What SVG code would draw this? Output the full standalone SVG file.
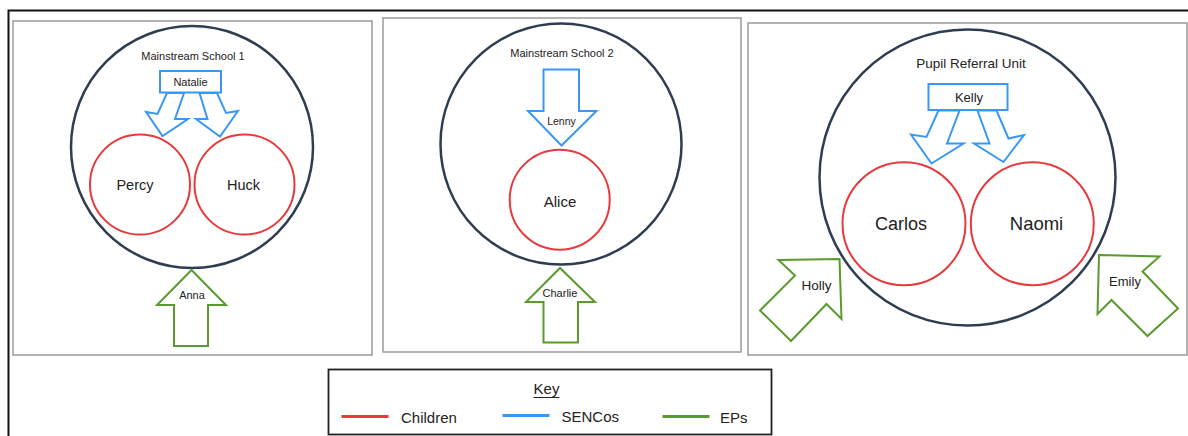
<svg xmlns="http://www.w3.org/2000/svg" width="1188" height="436" viewBox="0 0 1188 436">
<style>
text{font-family:"Liberation Sans",Arial,sans-serif;fill:#222;text-anchor:middle;dominant-baseline:central}
.panel{fill:#fff;stroke:#9a9a9a;stroke-width:1.5}
.school{fill:none;stroke:#2f3d52;stroke-width:2.5}
.child{fill:none;stroke:#e8393d;stroke-width:2}
.senco{fill:#fff;stroke:#3a98f2;stroke-width:2;stroke-linejoin:miter}
.ep{fill:#fff;stroke:#5a9a2e;stroke-width:2;stroke-linejoin:miter}
.key{fill:#fff;stroke:#222;stroke-width:1.8}
.kt{font-family:"Liberation Sans",Arial,sans-serif;font-size:15px;text-anchor:start}
</style>
<rect width="1188" height="436" fill="#fff"/>
<path d="M8.5 436V10.5H1188" fill="none" stroke="#111" stroke-width="2"/>

<g id="panel-school1">
<rect class="panel" x="13" y="21" width="359" height="334"/>
<circle class="school" cx="192" cy="147" r="121"/>
<text x="193" y="56" font-size="11">Mainstream School 1</text>
</g>
<g id="panel-school2">
<rect class="panel" x="383" y="18" width="358" height="334"/>
<circle class="school" cx="561" cy="144" r="120.5"/>
<text x="562" y="53" font-size="11">Mainstream School 2</text>
</g>
<g id="panel-pru">
<rect class="panel" x="748" y="23" width="439" height="332"/>
<circle class="school" cx="967.5" cy="177.5" r="148"/>
<text x="971" y="63" font-size="13.5">Pupil Referral Unit</text>
</g>

<g id="connectors">
<polygon class="senco" points="167,93 184,93 175,119 188,119 162.5,136 146,112 157.5,114"/>
<polygon class="senco" points="199.5,93 217,93 226,113 238,111 220,136.5 196,119 207.5,119"/>
<polygon class="senco" points="543.5,69.5 579,69.5 579,111 596.5,111 561.5,145.5 528,111 543.5,111"/>
<polygon class="senco" points="938.5,110.5 959.5,110.5 947,143.5 963.5,143.5 931.5,163.5 911,134.5 926.5,137"/>
<polygon class="senco" points="977.5,110.5 996.5,110.5 1008.5,138.5 1024,135 1003.5,162 974,143.5 989.5,143.5"/>
<polygon class="ep" points="174,346 208,346 208,305 226,305 191.5,270 157,305 174,305"/>
<polygon class="ep" points="543.5,342.5 578,342.5 578,302 595,302 560,268 526,302 543.5,302"/>
<polygon class="ep" points="778.5,260 839.5,259 841.5,319 826.5,304 791,341 760,310.5 795,275.5"/>
<polygon class="ep" points="1099,255 1159.5,256.5 1142.5,271.5 1178,308.5 1147.5,336 1111.5,300 1097.5,314"/>
</g>

<g id="natalie"><rect class="senco" x="160" y="71" width="61" height="21.5"/><text x="190.5" y="82" font-size="11">Natalie</text></g>
<g id="lenny"><text x="561.5" y="121" font-size="10.5">Lenny</text></g>
<g id="kelly"><rect class="senco" x="928.5" y="84" width="79" height="26"/><text x="969" y="97.5" font-size="13">Kelly</text></g>

<g id="percy"><circle class="child" cx="140" cy="184.5" r="50"/><text x="135" y="184.5" font-size="14.5">Percy</text></g>
<g id="huck"><circle class="child" cx="244.5" cy="184.5" r="50"/><text x="243.5" y="184.5" font-size="14.5">Huck</text></g>
<g id="alice"><circle class="child" cx="559.7" cy="199.7" r="50"/><text x="560" y="201.5" font-size="15">Alice</text></g>
<g id="carlos"><circle class="child" cx="904" cy="223.7" r="61.5"/><text x="901" y="223.5" font-size="18">Carlos</text></g>
<g id="naomi"><circle class="child" cx="1032.3" cy="223.7" r="61.5"/><text x="1036.5" y="223.5" font-size="18.5">Naomi</text></g>

<g id="anna"><text x="192" y="295" font-size="11">Anna</text></g>
<g id="charlie"><text x="560" y="292.5" font-size="11">Charlie</text></g>
<g id="holly"><text x="816.5" y="285.5" font-size="13.5">Holly</text></g>
<g id="emily"><text x="1125" y="281" font-size="13">Emily</text></g>

<g id="key">
<rect class="key" x="328.5" y="369.5" width="443" height="65"/>
<text x="546.5" y="388.5" font-size="15">Key</text>
<line x1="533.5" y1="397.5" x2="559.5" y2="397.5" stroke="#222" stroke-width="1"/>
<line x1="341.5" y1="416.5" x2="388.5" y2="416.5" stroke="#e8393d" stroke-width="3"/>
<text class="kt" x="401" y="417">Children</text>
<line x1="502.5" y1="415.5" x2="549.5" y2="415.5" stroke="#3a98f2" stroke-width="3"/>
<text class="kt" x="561.5" y="416">SENCos</text>
<line x1="662.5" y1="416.5" x2="709.5" y2="416.5" stroke="#5a9a2e" stroke-width="3"/>
<text class="kt" x="720" y="417">EPs</text>
</g>
</svg>
